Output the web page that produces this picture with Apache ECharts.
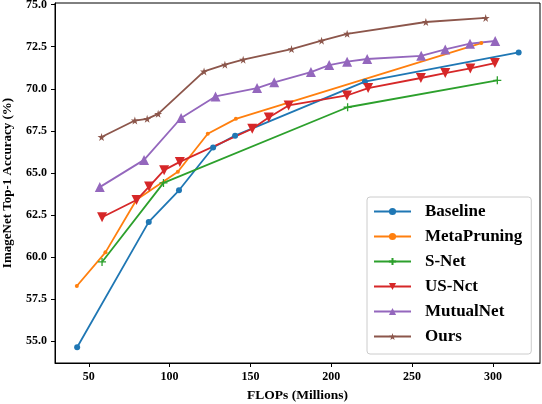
<!DOCTYPE html>
<html>
<head>
<meta charset="utf-8">
<script src="https://cdn.jsdelivr.net/npm/echarts@6/dist/echarts.min.js"></script>
<style>
html,body{margin:0;padding:0;background:#fff;}
#c{width:542px;height:404px;}
</style>
</head>
<body>
<div id="c"></div>
<script>
var xTicks = [50, 100, 150, 200, 250, 300];
var yTicks = [55, 57.5, 60, 62.5, 65, 67.5, 70, 72.5, 75];

var seriesNames = ['Baseline', 'MetaPruning', 'S-Net', 'US-Nct', 'MutualNet', 'Ours'];

var baselineX = [42.8, 87.1, 105.8, 126.9, 140.5, 220.8, 315.9];
var baselineY = [54.63, 62.08, 63.96, 66.51, 67.21, 70.42, 72.16];

var metaX = [42.6, 60.3, 79.5, 105.1, 123.6, 141.0, 292.8];
var metaY = [58.27, 60.27, 63.4, 65.06, 67.32, 68.21, 72.72];

var snetX = [58.2, 96.2, 210.1, 302.7];
var snetY = [59.7, 64.4, 68.9, 70.5];

var usnetX = [58.2, 79.5, 87.3, 96.6, 106.3, 151.1, 161.3, 173.6, 209.7, 222.8, 255.4, 270.5, 286.0, 301.2];
var usnetY = [62.36, 63.38, 64.18, 65.16, 65.65, 67.62, 68.29, 69.01, 69.60, 70.04, 70.64, 70.93, 71.21, 71.53];

var mutualX = [56.8, 84.2, 107.1, 128.4, 154.1, 164.7, 187.4, 198.7, 209.8, 222.2, 255.6, 270.5, 285.8, 301.4];
var mutualY = [64.15, 65.77, 68.26, 69.54, 70.04, 70.38, 70.99, 71.41, 71.61, 71.77, 71.96, 72.34, 72.68, 72.84];

var oursX = [57.9, 78.5, 86.1, 92.9, 121.3, 134.2, 145.5, 175.4, 194.0, 209.8, 258.5, 295.5];
var oursY = [67.13, 68.11, 68.21, 68.51, 71.03, 71.43, 71.73, 72.36, 72.86, 73.27, 73.97, 74.21];

function pairs(xs, ys) { return xs.map(function (x, i) { return [x, ys[i]]; }); }

var FONT = '"Liberation Serif", "Times New Roman", serif';
var STAR = 'path://M50,0 L61,35 L98,35 L68,57 L79,91 L50,70 L21,91 L32,57 L2,35 L39,35 Z';
var PLUS = 'path://M5,0 L5,10 M0,5 L10,5';

function mk(name, data, color, symbol, size, extra) {
  var s = {
    name: name, type: 'line', data: data,
    symbol: symbol, symbolSize: size,
    lineStyle: { color: color, width: 1.8 },
    itemStyle: { color: color },
    emphasis: { disabled: true },
    animation: false,
    z: 2
  };
  if (extra) { for (var k in extra) s[k] = extra[k]; }
  return s;
}

var chart = echarts.init(document.getElementById('c'), null, { renderer: 'canvas' });
chart.setOption({
  backgroundColor: '#fff',
  animation: false,
  grid: { left: 55, right: 2, top: 3, bottom: 41, show: true, borderColor: '#000', borderWidth: 1,
    backgroundColor: 'transparent', containLabel: false, outerBoundsMode: 'none' },
  xAxis: {
    type: 'value', min: 29.1, max: 329.1,
    name: 'FLOPs (Millions)', nameLocation: 'middle', nameGap: 26,
    nameTextStyle: { fontFamily: FONT, fontWeight: 'bold', fontSize: 13.5, color: '#000' },
    axisLine: { show: true, lineStyle: { color: '#000', width: 1 } },
    axisTick: { show: true, length: 4, lineStyle: { color: '#000' }, customValues: xTicks },
    axisLabel: { fontFamily: FONT, fontWeight: 'bold', fontSize: 12, color: '#000', margin: 8, customValues: xTicks },
    splitLine: { show: false }
  },
  yAxis: {
    type: 'value', min: 53.69, max: 75.10,
    name: 'ImageNet Top-1 Accuracy (%)', nameLocation: 'middle', nameGap: 41,
    nameTextStyle: { fontFamily: FONT, fontWeight: 'bold', fontSize: 13, color: '#000' },
    axisLine: { show: true, lineStyle: { color: '#000', width: 1 } },
    axisTick: { show: true, length: 4, lineStyle: { color: '#000' }, customValues: yTicks },
    axisLabel: { fontFamily: FONT, fontWeight: 'bold', fontSize: 12, color: '#000', margin: 8,
      customValues: yTicks, formatter: function (v) { return v.toFixed(1); } },
    splitLine: { show: false }
  },
  legend: {
    orient: 'vertical', left: 367, top: 197,
    padding: [6, 9, 9, 6],
    itemWidth: 37, itemHeight: 9, itemGap: 8,
    backgroundColor: 'rgba(255,255,255,0.85)',
    borderColor: '#ccc', borderWidth: 1, borderRadius: 3,
    textStyle: { fontFamily: FONT, fontWeight: 'bold', fontSize: 17, color: '#000', padding: [0, 0, 0, 9] },
    data: seriesNames
  },
  series: [
    mk(seriesNames[0], pairs(baselineX, baselineY), '#1f77b4', 'circle', 6),
    mk(seriesNames[1], pairs(metaX, metaY), '#ff7f0e', 'circle', 4),
    mk(seriesNames[2], pairs(snetX, snetY), '#2ca02c', PLUS, 8,
       { itemStyle: { color: 'none', borderColor: '#2ca02c', borderWidth: 1.3 } }),
    mk(seriesNames[3], pairs(usnetX, usnetY), '#d62728', 'triangle', 10, { symbolRotate: 180 }),
    mk(seriesNames[4], pairs(mutualX, mutualY), '#9467bd', 'triangle', 10),
    mk(seriesNames[5], pairs(oursX, oursY), '#8c564b', STAR, 8)
  ]
});
</script>
</body>
</html>
